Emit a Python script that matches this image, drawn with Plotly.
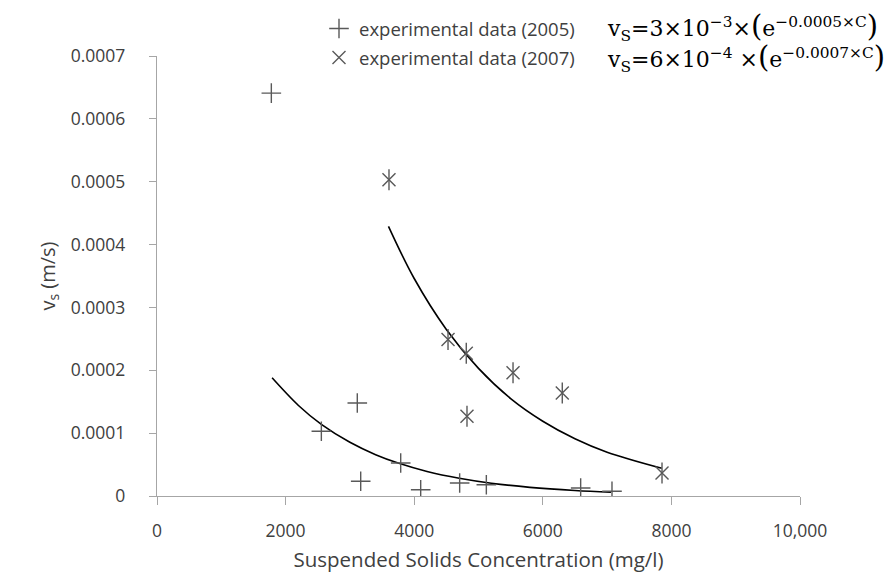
import plotly.graph_objects as go

# ---- data ----
c_2005 = [1778, 2556, 3115, 3168, 3790, 4101, 4707, 5122, 6589, 7076]
v_2005 = [0.000641, 0.000103, 0.000148, 0.0000234, 0.0000525, 0.0000100,
          0.0000207, 0.0000180, 0.0000127, 0.0000075]

c_2007 = [3608, 4526, 4810, 4821, 5537, 6303, 7854]
v_2007 = [0.000503, 0.000249, 0.000227, 0.000127, 0.000196, 0.000164, 0.0000366]

# fitted trend curves
fit_c_2005 = [1790, 2200, 2556, 3000, 3400, 3750, 4200, 4700, 5200, 5800, 6500, 7060]
fit_v_2005 = [0.000188, 0.000144, 0.000114, 0.0000855, 0.0000658, 0.0000525,
              0.0000391, 0.0000283, 0.0000204, 0.0000138, 0.0000088, 0.0000062]

fit_c_2007 = [3600, 4000, 4500, 5000, 5500, 6000, 6500, 7000, 7850]
fit_v_2007 = [0.000429, 0.000346, 0.000265, 0.000203, 0.000155,
              0.000119, 0.0000911, 0.0000697, 0.0000442]

x_tickvals = [0, 2000, 4000, 6000, 8000, 10000]
x_ticktext = ["0", "2000", "4000", "6000", "8000", "10,000"]
y_tickvals = [0, 0.0001, 0.0002, 0.0003, 0.0004, 0.0005, 0.0006, 0.0007]
y_ticktext = ["0", "0.0001", "0.0002", "0.0003", "0.0004", "0.0005", "0.0006", "0.0007"]

name_2005 = "experimental data (2005)"
name_2007 = "experimental data (2007)"
P_OPEN = '<span style="font-size:29px">(</span>'
P_CLOSE = '<span style="font-size:29px">)</span>'
eq_2005 = "v<sub>S</sub>=3×10<sup>−3</sup>×" + P_OPEN + "e<sup>−0.0005×C</sup>" + P_CLOSE
eq_2007 = "v<sub>S</sub>=6×10<sup>−4</sup> ×" + P_OPEN + "e<sup>−0.0007×C</sup>" + P_CLOSE

AXIS = "#a6a6a6"
TXT = "#404040"
MARK = "#595959"
SANS = "Open Sans"

fig = go.Figure()

fig.add_trace(go.Scatter(x=fit_c_2005, y=fit_v_2005, mode="lines",
                         line=dict(color="black", width=1.6, shape="spline"),
                         showlegend=False, hoverinfo="skip"))
fig.add_trace(go.Scatter(x=fit_c_2007, y=fit_v_2007, mode="lines",
                         line=dict(color="black", width=1.6, shape="spline"),
                         showlegend=False, hoverinfo="skip"))

fig.add_trace(go.Scatter(x=c_2005, y=v_2005, mode="markers", name=name_2005,
                         legendgroup="a",
                         marker=dict(symbol="cross-thin-open", size=14,
                                     line=dict(color=MARK, width=1.4), color=MARK)))
fig.add_trace(go.Scatter(x=c_2007, y=v_2007, mode="markers", name=name_2007,
                         legendgroup="b",
                         marker=dict(symbol="x-thin-open", size=13,
                                     line=dict(color=MARK, width=1.4), color=MARK)))
fig.add_trace(go.Scatter(x=c_2007, y=v_2007, mode="markers", showlegend=False,
                         legendgroup="b", hoverinfo="skip",
                         marker=dict(symbol="line-ns-open", size=15,
                                     line=dict(color=MARK, width=1.4), color=MARK)))

fig.update_layout(
    width=893, height=575, autosize=False,
    margin=dict(l=149, r=101, t=48, b=87, autoexpand=False),
    paper_bgcolor="white", plot_bgcolor="white",
    font=dict(family=SANS, color=TXT),
    showlegend=True,
    legend=dict(x=(311 - 149) / 643, y=(488 - 2) / 440, xanchor="left", yanchor="top",
                bgcolor="rgba(0,0,0,0)", font=dict(family=SANS, size=18.5, color=TXT),
                tracegroupgap=2),
    xaxis=dict(range=[0, 10000], tickvals=x_tickvals, ticktext=x_ticktext,
               showline=True, linecolor=AXIS, linewidth=1.3,
               ticks="outside", ticklen=8, tickcolor=AXIS, tickwidth=1.3,
               showgrid=False, zeroline=False, ticklabelstandoff=11,
               tickfont=dict(family=SANS, size=17.5, color=TXT),
               title=dict(text="Suspended Solids Concentration (mg/l)",
                          font=dict(family=SANS, size=20.5, color=TXT), standoff=11)),
    yaxis=dict(range=[0, 0.0007], tickvals=y_tickvals, ticktext=y_ticktext,
               showline=True, linecolor=AXIS, linewidth=1.3,
               ticks="outside", ticklen=7, tickcolor=AXIS, tickwidth=1.3,
               showgrid=False, zeroline=False, ticklabelstandoff=20,
               tickfont=dict(family=SANS, size=17.5, color=TXT),
               title=dict(text="v<sub>s</sub> (m/s)",
                          font=dict(family=SANS, size=20, color=TXT), standoff=9)),
)

for eq, ypix in [(eq_2005, 19), (eq_2007, 50)]:
    fig.add_annotation(text=eq, xref="paper", yref="paper",
                       x=(597 - 149) / 643, y=(488 - ypix) / 440,
                       xanchor="left", yanchor="middle", showarrow=False,
                       font=dict(family="DejaVu Serif", size=22, color="black"))

fig.write_html("out.html")
